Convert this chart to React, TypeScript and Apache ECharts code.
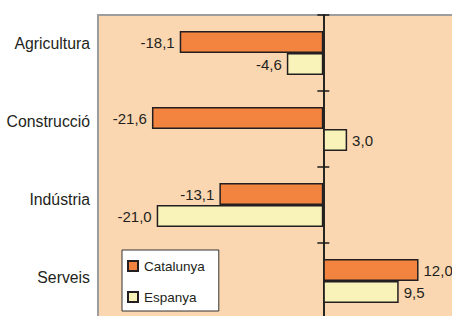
import React, { useEffect, useRef } from "react";
import * as echarts from "echarts";

const categories = ["Agricultura", "Construcció", "Indústria", "Serveis"];
const seriesNames = ["Catalunya", "Espanya"];
const catalunya = [-18.1, -21.6, -13.1, 12.0];
const espanya = [-4.6, 3.0, -21.0, 9.5];

const FONT = "'Liberation Sans', Arial, Helvetica, sans-serif";
const TEXT = "#231f20";

export default function App() {
  const ref = useRef<HTMLDivElement>(null);
  useEffect(() => {
    const chart = echarts.init(ref.current!, null, { renderer: "svg" });
    const fmt = (p: any) => Number(p.value).toFixed(1).replace(".", ",");
    const mk = (arr: number[]) =>
      arr.map((v) => ({ value: v, label: { position: v < 0 ? "left" : "right" } }));
    const barCommon = {
      type: "bar",
      xAxisIndex: 0,
      yAxisIndex: 0,
      barWidth: 22,
      barGap: "0%",
      label: {
        show: true,
        distance: 5,
        fontSize: 15,
        fontFamily: FONT,
        color: TEXT,
        formatter: fmt,
      },
    };
    const zeroLine = { color: "#1a1a1a", width: 1.5 };
    chart.setOption({
      animation: false,
      textStyle: { fontFamily: FONT },
      grid: [
        {
          left: 98,
          top: 15,
          width: 384,
          height: 304,
          outerBoundsMode: "none",
          containLabel: false,
          show: true,
          backgroundColor: "#FAD7B1",
          borderColor: "#9d9d9d",
          borderWidth: 2,
        },
        {
          left: 98,
          top: 4,
          width: 384,
          height: 312,
          outerBoundsMode: "none",
          containLabel: false,
          show: false,
        },
      ],
      xAxis: [
        { gridIndex: 0, type: "value", min: -28.4, max: 20, show: false },
        { gridIndex: 1, type: "value", min: 0, max: 1, show: false },
      ],
      yAxis: [
        {
          gridIndex: 0,
          type: "category",
          data: categories,
          inverse: true,
          position: "left",
          axisLine: { show: true, onZero: true, onZeroAxisIndex: 0, lineStyle: zeroLine },
          axisTick: { show: true, length: 6, lineStyle: zeroLine },
          axisLabel: { show: false },
          splitLine: { show: false },
        },
        {
          gridIndex: 0,
          type: "category",
          data: categories,
          inverse: true,
          position: "right",
          axisLine: { show: true, onZero: true, onZeroAxisIndex: 0, lineStyle: zeroLine },
          axisTick: { show: true, length: 6, lineStyle: zeroLine },
          axisLabel: { show: false },
          splitLine: { show: false },
        },
        {
          gridIndex: 1,
          type: "category",
          data: categories,
          inverse: true,
          position: "left",
          axisLine: { show: false },
          axisTick: { show: false },
          axisLabel: { margin: 8, fontSize: 15.8, fontFamily: FONT, color: TEXT },
          splitLine: { show: false },
        },
      ],
      legend: {
        orient: "vertical",
        left: 122,
        top: 250,
        backgroundColor: "#ffffff",
        borderColor: "#333333",
        borderWidth: 1,
        padding: [9, 14, 7, 5],
        itemGap: 17,
        itemWidth: 10,
        itemHeight: 10,
        icon: "rect",
        textStyle: { fontSize: 13.5, fontFamily: FONT, color: TEXT, padding: [0, 0, 0, 1] },
        data: seriesNames,
      },
      series: [
        {
          ...barCommon,
          name: seriesNames[0],
          data: mk(catalunya),
          itemStyle: { color: "#F3843F", borderColor: TEXT, borderWidth: 1.5 },
        },
        {
          ...barCommon,
          name: seriesNames[1],
          data: mk(espanya),
          itemStyle: { color: "#F9F3BA", borderColor: TEXT, borderWidth: 1.5 },
        },
      ],
    });
    return () => chart.dispose();
  }, []);
  return (
    <div
      ref={ref}
      style={{ position: "absolute", left: 0, top: 0, width: 452, height: 316 }}
    />
  );
}
